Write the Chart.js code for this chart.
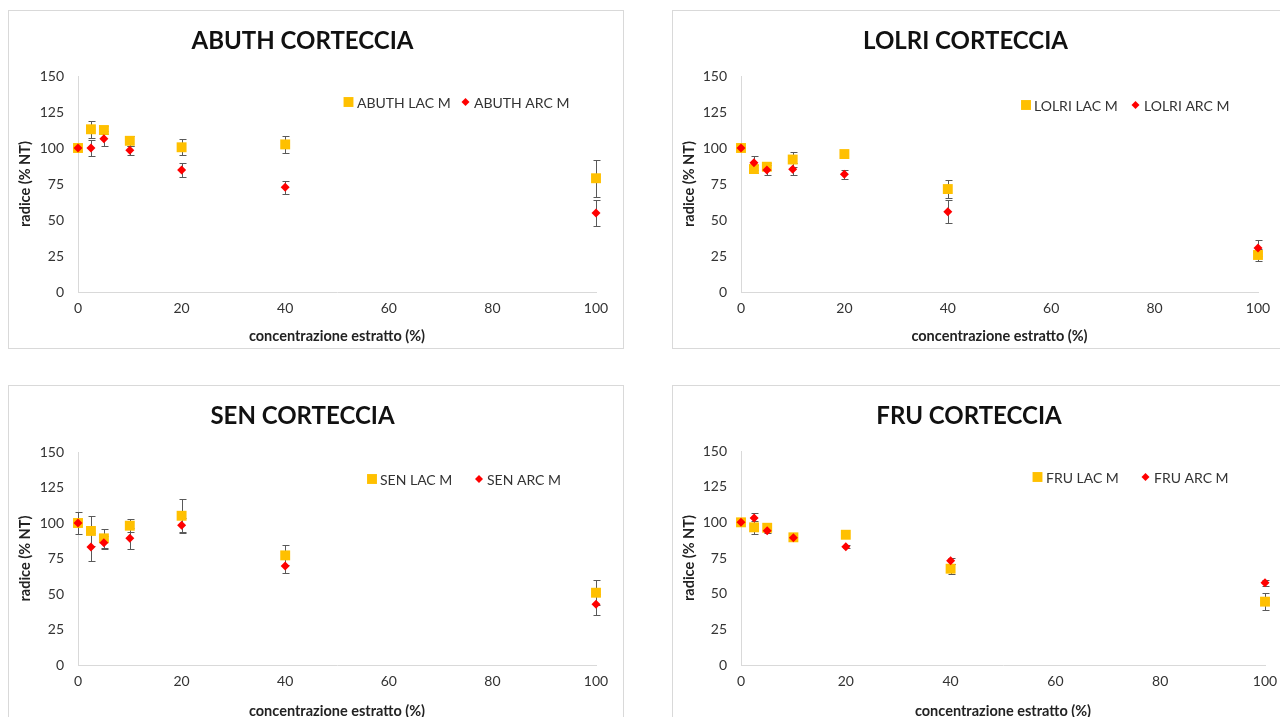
<!DOCTYPE html>
<html>
<head>
<meta charset="utf-8">
<script src="https://cdn.jsdelivr.net/npm/chart.js@4.4.1/dist/chart.umd.min.js"></script>
<style>
  html, body { margin: 0; padding: 0; background: #fff; width: 1280px; height: 717px; overflow: hidden; }
  .panel { position: absolute; width: 616px; height: 339px; border: 1px solid #d9d9d9; box-sizing: border-box; background: #fff; }
  .panel canvas { display: block; }
</style>
</head>
<body>
<div class="panel" style="left:8px;top:10px"><canvas id="c0" width="614" height="337"></canvas></div>
<div class="panel" style="left:672px;top:10px"><canvas id="c1" width="614" height="337"></canvas></div>
<div class="panel" style="left:8px;top:385px"><canvas id="c2" width="614" height="337"></canvas></div>
<div class="panel" style="left:672px;top:385px"><canvas id="c3" width="614" height="337"></canvas></div>
<script>
// concentrazioni dell'estratto (asse x)
const concentrations = [0, 2.5, 5, 10, 20, 40, 100];
const xTickStep = 20;
const yTickStep = 25;
const yMax = 150;

// ABUTH
const abuthLac = [100, 113, 112.5, 105, 100.5, 102.5, 79];
const abuthLacErr = [0, 6, 3, 3.4, 5.7, 5.8, 13];
const abuthArc = [100, 100, 106.5, 98.5, 84.7, 72.7, 54.9];
const abuthArcErr = [0, 5.6, 5.3, 3.2, 5.1, 4.6, 9];

// LOLRI
const lolriLac = [100, 85.4, 87, 92, 95.8, 71.5, 25.7];
const lolriLacErr = [0, 3, 2.3, 4.9, 0, 6.3, 4];
const lolriArc = [100, 89.8, 84.7, 85.2, 81.7, 55.8, 30.6];
const lolriArcErr = [0, 4.9, 3.7, 4.2, 3.2, 8.1, 5.5];

// SEN
const senLac = [100, 94.4, 89.2, 98.1, 105.1, 77.2, 50.9];
const senLacErr = [7.4, 10.5, 6.6, 4.5, 11.5, 7.1, 8.7];
const senArc = [100, 83.1, 86.1, 89.2, 98.4, 69.7, 42.7];
const senArcErr = [0, 10, 4.4, 7.3, 5.2, 4.7, 7.5];

// FRU
const fruLac = [100, 96.5, 96.2, 89.5, 91.3, 67.5, 44.4];
const fruLacErr = [0, 4.5, 1.5, 1.5, 0, 3.5, 6];
const fruArc = [100, 103, 94.1, 89.2, 82.9, 73.1, 57.7];
const fruArcErr = [0, 3.7, 1.5, 1, 1, 2, 2];

const FONT = 'Lato, "Open Sans", sans-serif';
const LAC_COLOR = '#FFC000';
const ARC_COLOR = '#FF0000';

// error bars under the markers
const errorBars = {
  id: 'errorBars',
  beforeDatasetsDraw(chart) {
    const ctx = chart.ctx;
    const yScale = chart.scales.y;
    chart.data.datasets.forEach((ds, i) => {
      const meta = chart.getDatasetMeta(i);
      meta.data.forEach((pt, j) => {
        const err = ds.errors[j];
        if (!err) return;
        const v = ds.data[j].y;
        const x = Math.round(pt.x) + 0.5;
        const top = Math.round(yScale.getPixelForValue(v + err)) + 0.5;
        const bot = Math.round(yScale.getPixelForValue(v - err)) + 0.5;
        ctx.save();
        ctx.strokeStyle = '#595959';
        ctx.lineWidth = 1;
        ctx.beginPath();
        ctx.moveTo(x, top); ctx.lineTo(x, bot);
        ctx.moveTo(x - 3, top); ctx.lineTo(x + 4, top);
        ctx.moveTo(x - 3, bot); ctx.lineTo(x + 4, bot);
        ctx.stroke();
        ctx.restore();
      });
    });
  }
};

// legend inside the plot, like the Excel one
const innerLegend = {
  id: 'innerLegend',
  afterDraw(chart, args, opts) {
    const ctx = chart.ctx;
    chart.data.datasets.forEach((ds, i) => {
      const item = opts.items[i];
      ctx.save();
      ctx.fillStyle = ds.backgroundColor;
      Chart.helpers.drawPoint(ctx, {
        pointStyle: ds.pointStyle,
        radius: ds.pointStyle === 'rect' ? 7 : 4,
        borderWidth: 0
      }, item.marker, opts.y);
      ctx.restore();
      ctx.save();
      ctx.font = '14px ' + FONT;
      ctx.fillStyle = '#333';
      ctx.textBaseline = 'middle';
      ctx.fillText(ds.label, item.text, opts.y + 1);
      ctx.restore();
    });
  }
};

function toPoints(values) {
  return concentrations.map((x, i) => ({ x: x, y: values[i] }));
}

const panels = [
  { id: 'c0', title: 'ABUTH CORTECCIA', names: ['ABUTH LAC M', 'ABUTH ARC M'],
    lac: abuthLac, lacErr: abuthLacErr, arc: abuthArc, arcErr: abuthArcErr,
    area: { left: 69, right: 587, top: 65, bottom: 281 },
    legend: { y: 91, items: [{ marker: 339.5, text: 348 }, { marker: 456.5, text: 465 }] } },
  { id: 'c1', title: 'LOLRI CORTECCIA', names: ['LOLRI LAC M', 'LOLRI ARC M'],
    lac: lolriLac, lacErr: lolriLacErr, arc: lolriArc, arcErr: lolriArcErr,
    area: { left: 68, right: 585, top: 65, bottom: 281 },
    legend: { y: 94, items: [{ marker: 353, text: 361 }, { marker: 462.5, text: 471 }] } },
  { id: 'c2', title: 'SEN CORTECCIA', names: ['SEN LAC M', 'SEN ARC M'],
    lac: senLac, lacErr: senLacErr, arc: senArc, arcErr: senArcErr,
    area: { left: 69, right: 587, top: 66, bottom: 279 },
    legend: { y: 93, items: [{ marker: 363, text: 371 }, { marker: 470, text: 478 }] } },
  { id: 'c3', title: 'FRU CORTECCIA', names: ['FRU LAC M', 'FRU ARC M'],
    lac: fruLac, lacErr: fruLacErr, arc: fruArc, arcErr: fruArcErr,
    area: { left: 68, right: 592, top: 65, bottom: 279 },
    legend: { y: 91, items: [{ marker: 364.5, text: 373 }, { marker: 472.5, text: 481 }] } }
];

panels.forEach(p => {
  const canvas = document.getElementById(p.id);
  const W = canvas.width, H = canvas.height;
  const titleSize = 24, titleLH = titleSize * 1.2, titleTop = 16;

  new Chart(canvas, {
    type: 'scatter',
    data: {
      datasets: [
        { label: p.names[0], data: toPoints(p.lac), errors: p.lacErr, order: 2, clip: false,
          pointStyle: 'rect', pointRadius: 7, pointHoverRadius: 7, borderWidth: 0,
          backgroundColor: LAC_COLOR, borderColor: LAC_COLOR },
        { label: p.names[1], data: toPoints(p.arc), errors: p.arcErr, order: 1, clip: false,
          pointStyle: 'rectRot', pointRadius: 4.5, pointHoverRadius: 4.5, borderWidth: 0,
          backgroundColor: ARC_COLOR, borderColor: ARC_COLOR }
      ]
    },
    options: {
      responsive: false,
      animation: false,
      layout: { padding: { left: 0, right: W - p.area.right, top: 0, bottom: 0 } },
      plugins: {
        legend: { display: false },
        tooltip: { enabled: false },
        title: {
          display: true, text: p.title, color: '#111',
          font: { family: FONT, size: titleSize, weight: 'bold' },
          padding: { top: titleTop, bottom: p.area.top - titleTop - titleLH }
        },
        innerLegend: p.legend
      },
      scales: {
        x: {
          type: 'linear', min: 0, max: 100,
          ticks: { stepSize: xTickStep, color: '#333', font: { family: FONT, size: 14 }, padding: 8 },
          grid: { display: false, drawTicks: false },
          border: { display: true, color: '#d9d9d9', width: 1 },
          title: { display: true, text: 'concentrazione estratto (%)', color: '#222',
                   font: { family: FONT, size: 14.5, weight: 'bold' }, padding: { top: 0, bottom: 3 } },
          afterFit(s) { s.height = H - p.area.bottom; }
        },
        y: {
          min: 0, max: yMax,
          ticks: { stepSize: yTickStep, color: '#333', font: { family: FONT, size: 14 }, padding: 14 },
          grid: { display: false, drawTicks: false },
          border: { display: true, color: '#d9d9d9', width: 1 },
          title: { display: true, text: 'radice (% NT)', color: '#222',
                   font: { family: FONT, size: 14.5, weight: 'bold' }, padding: { top: 8, bottom: 0 } },
          afterFit(s) { s.width = p.area.left; }
        }
      }
    },
    plugins: [errorBars, innerLegend]
  });
});
</script>
</body>
</html>
